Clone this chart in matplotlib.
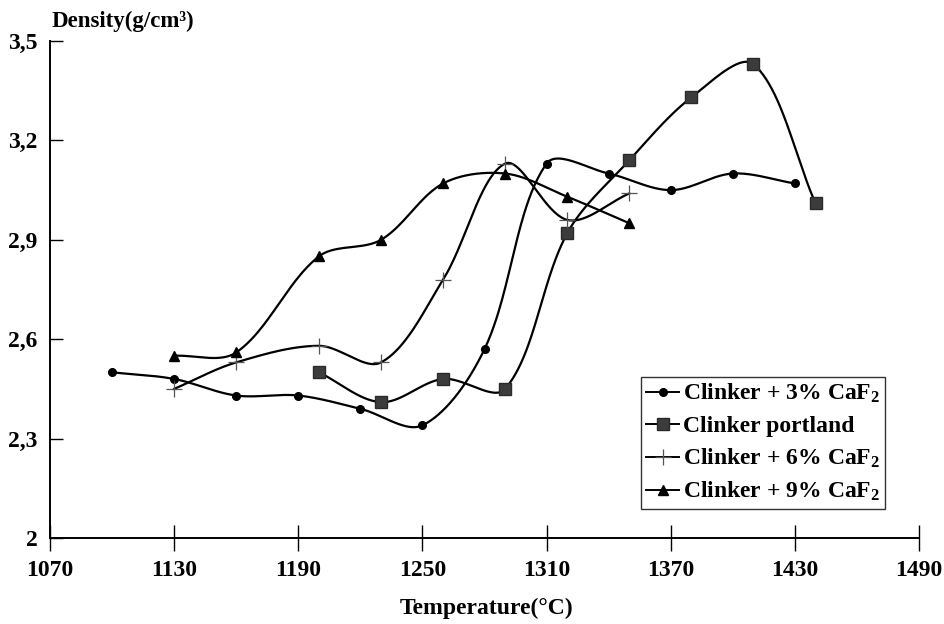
import numpy as np
import matplotlib
matplotlib.use("Agg")
import matplotlib.pyplot as plt

plt.rcParams['font.family'] = ['Liberation Serif', 'DejaVu Serif']
plt.rcParams['font.weight'] = 'bold'
plt.rcParams['mathtext.fontset'] = 'custom'
plt.rcParams['mathtext.rm'] = 'Liberation Serif:bold'
plt.rcParams['mathtext.it'] = 'Liberation Serif:bold'
plt.rcParams['mathtext.bf'] = 'Liberation Serif:bold'
plt.rcParams['mathtext.default'] = 'rm'

# ---- data ----
t_3 = [1100, 1130, 1160, 1190, 1220, 1250, 1280, 1310, 1340, 1370, 1400, 1430]
d_3 = [2.50, 2.48, 2.43, 2.43, 2.39, 2.34, 2.57, 3.13, 3.10, 3.05, 3.10, 3.07]

t_p = [1200, 1230, 1260, 1290, 1320, 1350, 1380, 1410, 1440]
d_p = [2.50, 2.41, 2.48, 2.45, 2.92, 3.14, 3.33, 3.43, 3.01]

t_6 = [1130, 1160, 1200, 1230, 1260, 1290, 1320, 1350]
d_6 = [2.45, 2.53, 2.58, 2.53, 2.78, 3.13, 2.96, 3.04]

t_9 = [1130, 1160, 1200, 1230, 1260, 1290, 1320, 1350]
d_9 = [2.55, 2.56, 2.85, 2.90, 3.07, 3.10, 3.03, 2.95]

labels = [r'Clinker + 3% CaF$_2$', 'Clinker portland',
          r'Clinker + 6% CaF$_2$', r'Clinker + 9% CaF$_2$']

xticks = [1070, 1130, 1190, 1250, 1310, 1370, 1430, 1490]
yticks = [2.0, 2.3, 2.6, 2.9, 3.2, 3.5]
ytick_labels = ['2', '2,3', '2,6', '2,9', '3,2', '3,5']

fig = plt.figure(figsize=(9.44, 6.24), dpi=100)
ax = fig.add_axes([50/944, 1-538/624, (919-50)/944, (538-41)/624])
ax.set_xlim(1070, 1490)
ax.set_ylim(2.0, 3.5)


def smooth(ax, xs, ys, n=50):
    pts = ax.transData.transform(np.column_stack([xs, ys]))
    P = np.vstack([pts[0], pts, pts[-1]])
    L = np.linalg.norm(np.diff(P, axis=0), axis=1)
    out = []
    for i in range(1, len(P) - 2):
        p0, p1, p2, p3 = P[i-1], P[i], P[i+1], P[i+2]
        d01, d12, d23 = L[i-1], L[i], L[i+1]
        f1 = d12 / (d01 + d12) / 3.0 if (d01 + d12) > 0 else 0
        f2 = d12 / (d12 + d23) / 3.0 if (d12 + d23) > 0 else 0
        b0 = p1
        b1 = p1 + (p2 - p0) * f1
        b2 = p2 - (p3 - p1) * f2
        b3 = p2
        t = np.linspace(0, 1, n)[:, None]
        seg = ((1-t)**3)*b0 + 3*((1-t)**2)*t*b1 + 3*(1-t)*(t**2)*b2 + (t**3)*b3
        out.append(seg if i == 1 else seg[1:])
    out = np.vstack(out)
    d = ax.transData.inverted().transform(out)
    return d[:, 0], d[:, 1]


series = [
    (t_3, d_3, dict(marker='o', markersize=5.5, mfc='black', mec='black')),
    (t_p, d_p, dict(marker='s', markersize=8, mfc='#3c3c3c', mec='#2a2a2a')),
    (t_6, d_6, dict(marker='+', markersize=11, mec='#555555', mew=0.9)),
    (t_9, d_9, dict(marker='^', markersize=7, mfc='black', mec='black')),
]

handles = []
for (xs, ys, st), lab in zip(series, labels):
    sx, sy = smooth(ax, xs, ys)
    ax.plot(sx, sy, color='black', lw=1.6, zorder=2)
    ax.plot(xs, ys, linestyle='none', zorder=3, **st)
    h, = ax.plot([], [], color='black', lw=1.4, label=lab, **st)
    handles.append(h)

for s in ['top', 'right']:
    ax.spines[s].set_visible(False)
ax.spines['left'].set_linewidth(1.4)
ax.spines['bottom'].set_linewidth(1.4)

ax.set_xticks(xticks)
ax.set_xticklabels([str(v) for v in xticks])
ax.set_yticks(yticks)
ax.set_yticklabels(ytick_labels)
ax.tick_params(axis='x', direction='inout', length=19, width=1.0, pad=6,
               labelsize=17)
ax.tick_params(axis='y', direction='in', length=9.5, width=1.0, pad=9,
               labelsize=17)
for lbl in ax.get_xticklabels() + ax.get_yticklabels():
    lbl.set_fontweight('bold')

fig.text(52/944, 1-21/624, 'Density(g/cm³)', fontsize=16.5, fontweight='bold',
         ha='left', va='center')
fig.text(487/944, 1-608/624, 'Temperature(°C)', fontsize=17, fontweight='bold',
         ha='center', va='center')

leg = ax.legend(handles=handles, loc='upper left',
                bbox_to_anchor=(641/944, 1-377/624), bbox_transform=fig.transFigure,
                prop={'size': 17, 'weight': 'bold'}, frameon=True, fancybox=False,
                edgecolor='black', handlelength=1.4, handletextpad=0.15,
                labelspacing=0.42, borderpad=0.22, borderaxespad=0)
leg.get_frame().set_linewidth(1.0)

fig.savefig('out.png', dpi=100)
